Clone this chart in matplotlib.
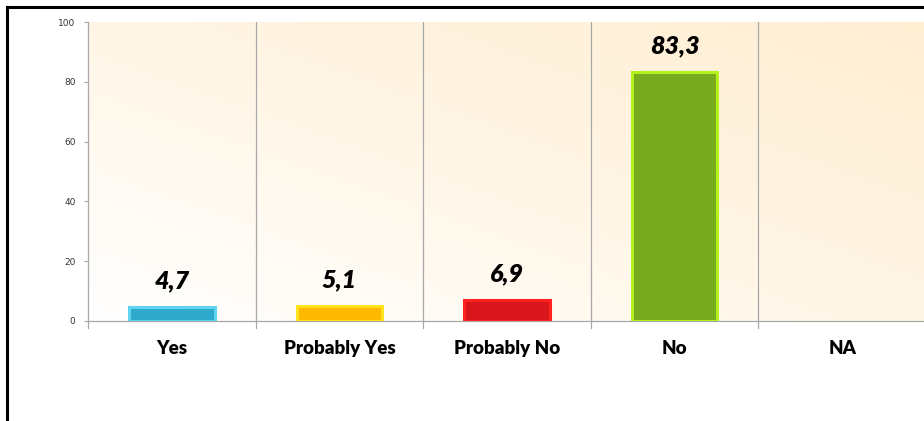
import numpy as np
import matplotlib
matplotlib.use("Agg")
import matplotlib.pyplot as plt
from matplotlib.colors import LinearSegmentedColormap
from matplotlib.lines import Line2D

categorias = ["Yes", "Probably Yes", "Probably No", "No", "NA"]
valores = [4.7, 5.1, 6.9, 83.3, 0.0]
colores = ["#2ea8cc", "#ffb800", "#d9161b", "#78ab1e", "#cccccc"]
bordes = ["#5fd3ef", "#ffe21a", "#ff2020", "#b5f21c", "#cccccc"]
yticks = [0, 20, 40, 60, 80, 100]

fig = plt.figure(figsize=(9.24, 4.21), dpi=100)
ax = fig.add_axes([88/924, 100/421, 838/924, 299/421])

# fondo degradado crema
gx, gy = np.meshgrid(np.linspace(0, 1, 200), np.linspace(0, 1, 100))
grad = 0.6*gx + 0.6*gy
cmap = LinearSegmentedColormap.from_list("fondo", ["#ffffff", "#fff6e6", "#ffeed2"])
ax.imshow(grad, extent=(-0.5, 4.5, 0, 100), origin="lower", aspect="auto",
          cmap=cmap, zorder=0, vmin=0, vmax=1.2)

x = np.arange(len(categorias))
for i in range(len(categorias)):
    if valores[i] <= 0:
        continue
    ax.bar(x[i], valores[i], width=0.51, color=colores[i], edgecolor=bordes[i],
           linewidth=2.2, zorder=3)
    ax.text(x[i], valores[i] + 5, ("%.1f" % valores[i]).replace(".", ","),
            ha="center", va="bottom", fontsize=18, fontweight="heavy",
            fontstyle="italic", family="Lato", color="black", zorder=4)

# lineas divisorias
for b in np.arange(0.5, 4.5, 1):
    ax.axvline(b, color="#a8a8a8", lw=0.9, zorder=1)
    ax.plot([b, b], [0, -2.5], color="#a8a8a8", lw=0.9, clip_on=False, zorder=1)
ax.plot([-0.5, -0.5], [0, -2.5], color="#a8a8a8", lw=0.9, clip_on=False)

ax.set_xlim(-0.5, 4.5)
ax.set_ylim(0, 100)
ax.set_yticks(yticks)
ax.set_yticklabels([str(t) for t in yticks], fontsize=6.5, color="#333333")
ax.tick_params(axis="y", length=3, width=0.8, color="#a8a8a8", pad=6)
ax.set_xticks(x)
ax.set_xticklabels(categorias, fontsize=13.5, fontweight="heavy", family="Lato")
ax.tick_params(axis="x", length=0, pad=14)
for s in ["top", "right"]:
    ax.spines[s].set_visible(False)
ax.spines["left"].set_color("#a8a8a8")
ax.spines["bottom"].set_color("#a8a8a8")
ax.spines["left"].set_linewidth(0.9)
ax.spines["bottom"].set_linewidth(0.9)

# marco negro
fig.add_artist(Line2D([7/924, 7/924], [0, 1 - 7/421], color="black", lw=2.2,
                      transform=fig.transFigure))
fig.add_artist(Line2D([7/924, 1], [1 - 7/421, 1 - 7/421], color="black", lw=2.2,
                      transform=fig.transFigure))

fig.savefig("out.png", dpi=100)
